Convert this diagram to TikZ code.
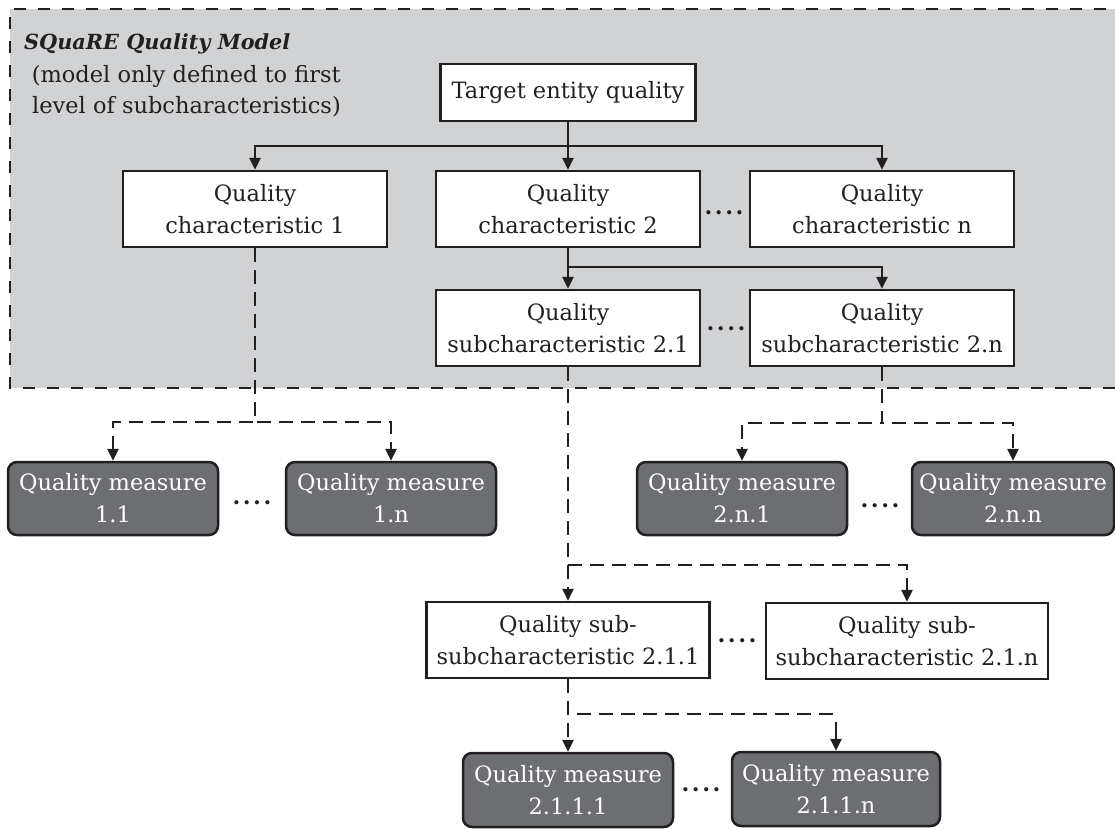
\documentclass[tikz,border=0pt]{standalone}
\usepackage{fontspec}
\setmainfont{DejaVu Serif}
\usetikzlibrary{arrows.meta}
\definecolor{regiongray}{HTML}{D1D2D4}
\definecolor{measuregray}{HTML}{6D6E71}
\definecolor{inkblack}{HTML}{231F20}
\begin{document}
\begin{tikzpicture}[x=1pt,y=-1pt,
  every node/.style={font=\fontsize{22.5pt}{32pt}\selectfont, inner sep=0pt, align=center, text=inkblack},
  charbox/.style={draw=inkblack, fill=white, line width=2.5pt},
  measurebox/.style={draw=inkblack, fill=measuregray, text=white, line width=2.5pt, rounded corners=9pt},
  plainline/.style={draw=inkblack, line width=2.6pt},
  link/.style={draw=inkblack, line width=2.6pt, -{Triangle[length=12pt,width=11pt]}},
  dashlink/.style={link, dash pattern=on 14pt off 8pt},
  regionborder/.style={draw=inkblack, line width=2.6pt, dash pattern=on 12pt off 12pt},
  ellipsis/.style={font=\bfseries\fontsize{22.5pt}{32pt}\selectfont}
]
\useasboundingbox (0,0) rectangle (1115,828);

% model region
\fill[regiongray] (10,9) rectangle (1130,388);
\draw[regionborder] (1130,9) -- (10,9) -- (10,388) -- (1130,388);

\node[anchor=base west, font=\bfseries\itshape\fontsize{20.8pt}{32pt}\selectfont] (title) at (24,49) {SQuaRE Quality Model};
\node[anchor=base east] (subtitleA) at (341,82) {(model only defined to first};
\node[anchor=base east] (subtitleB) at (341,113) {level of subcharacteristics)};

% nodes
\node[charbox, minimum width=255pt, minimum height=57pt] (target) at (568,92.5) {Target entity quality};
\node[charbox, minimum width=264pt, minimum height=76pt] (char1) at (255,209) {Quality\\characteristic 1};
\node[charbox, minimum width=264pt, minimum height=76pt] (char2) at (568,209) {Quality\\characteristic 2};
\node[charbox, minimum width=264pt, minimum height=76pt] (charn) at (882,209) {Quality\\characteristic n};
\node[charbox, minimum width=264pt, minimum height=76pt] (sub21) at (568,328) {Quality\\subcharacteristic 2.1};
\node[charbox, minimum width=264pt, minimum height=76pt] (sub2n) at (882,328) {Quality\\subcharacteristic 2.n};
\node[charbox, minimum width=283pt, minimum height=76pt] (ss1) at (568,640) {Quality sub-\\subcharacteristic 2.1.1};
\node[charbox, minimum width=282pt, minimum height=76pt] (ssn) at (907,641) {Quality sub-\\subcharacteristic 2.1.n};

\node[measurebox, minimum width=210pt, minimum height=73pt] (qm11) at (113,498.5) {Quality measure\\1.1};
\node[measurebox, minimum width=210pt, minimum height=73pt] (qm1n) at (391,498.5) {Quality measure\\1.n};
\node[measurebox, minimum width=210pt, minimum height=73pt] (qm2n1) at (742,498.5) {Quality measure\\2.n.1};
\node[measurebox, minimum width=202pt, minimum height=73pt] (qm2nn) at (1013,498.5) {Quality measure\\2.n.n};
\node[measurebox, minimum width=210pt, minimum height=74pt] (qm2111) at (568,790) {Quality measure\\2.1.1.1};
\node[measurebox, minimum width=208pt, minimum height=74pt] (qm211n) at (836,789) {Quality measure\\2.1.1.n};

% ellipses
\node[ellipsis] (dotsA) at (724,213) {.\kern2.5pt.\kern2.5pt.\kern2.5pt.};
\node[ellipsis] (dotsB) at (726,329) {.\kern2.5pt.\kern2.5pt.\kern2.5pt.};
\node[ellipsis] (dotsC) at (252,503) {.\kern2.5pt.\kern2.5pt.\kern2.5pt.};
\node[ellipsis] (dotsD) at (880,506) {.\kern2.5pt.\kern2.5pt.\kern2.5pt.};
\node[ellipsis] (dotsE) at (737,641) {.\kern2.5pt.\kern2.5pt.\kern2.5pt.};
\node[ellipsis] (dotsF) at (701,790) {.\kern2.5pt.\kern2.5pt.\kern2.5pt.};

% junctions
\coordinate (busA) at (568,146);
\coordinate (busB) at (568,267);
\coordinate (busC) at (255,422);
\coordinate (busD) at (882,423);
\coordinate (busE) at (568,565);
\coordinate (busF) at (568,714);
\coordinate (busFend) at (836,714);
\coordinate (busFdrop) at (836,722);

% solid connectors
\draw[plainline] (target.south) -- (busA);
\draw[link] (busA) -| (char1.north);
\draw[link] (busA) -- (char2.north);
\draw[link] (busA) -| (charn.north);
\draw[plainline] (char2.south) -- (busB);
\draw[link] (busB) -- (sub21.north);
\draw[link] (busB) -| (sub2n.north);

% dashed connectors
\draw[dashlink] (char1.south) -- (busC) -| (qm11.north);
\draw[dashlink] (char1.south) -- (busC) -| (qm1n.north);
\draw[dashlink] (sub2n.south) -- (busD) -| (qm2n1.north);
\draw[dashlink] (sub2n.south) -- (busD) -| (qm2nn.north);
\draw[dashlink] (sub21.south) -- (busE) -- (ss1.north);
\draw[dashlink] (sub21.south) -- (busE) -| (ssn.north);
\draw[dashlink] (ss1.south) -- (busF) -- (qm2111.north);
\draw[plainline, dash pattern=on 14pt off 8pt] (ss1.south) -- (busF) -- (busFend);
\draw[link] (busFdrop) -- (qm211n.north);
\end{tikzpicture}
\end{document}
